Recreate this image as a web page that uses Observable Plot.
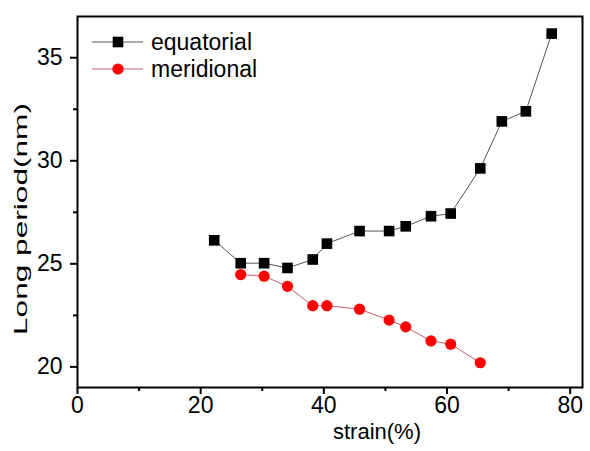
<!DOCTYPE html>
<html>
<head>
<meta charset="utf-8">
<script src="https://cdn.jsdelivr.net/npm/d3@7"></script>
<script src="https://cdn.jsdelivr.net/npm/@observablehq/plot@0.6"></script>
<style>
  html, body { margin: 0; padding: 0; background: #fff; }
  svg { font-family: "Liberation Sans", Arial, sans-serif; }
</style>
</head>
<body>
<div id="chart"></div>
<script>
// ---- data ----
const equatorialStrain = [22.2, 26.5, 30.3, 34.1, 38.2, 40.5, 45.8, 50.6, 53.3, 57.4, 60.6, 65.4, 68.9, 72.8, 77.0];
const equatorialPeriod = [26.14, 25.03, 25.03, 24.80, 25.21, 25.98, 26.59, 26.59, 26.82, 27.31, 27.44, 29.63, 31.91, 32.40, 36.17];
const meridionalStrain = [26.5, 30.3, 34.1, 38.2, 40.5, 45.8, 50.6, 53.3, 57.4, 60.6, 65.4];
const meridionalPeriod = [24.48, 24.40, 23.91, 22.97, 22.97, 22.80, 22.27, 21.94, 21.26, 21.10, 20.20];
const seriesNames = ["equatorial", "meridional"];
const xMajorTicks = [0, 20, 40, 60, 80];
const xMinorTicks = [10, 30, 50, 70];
const yMajorTicks = [20, 25, 30, 35];
const yMinorTicks = [22.5, 27.5, 32.5];
const xLabel = "strain(%)";
const yLabel = "Long period(nm)";

const eq = equatorialStrain.map((s, i) => ({strain: s, period: equatorialPeriod[i]}));
const me = meridionalStrain.map((s, i) => ({strain: s, period: meridionalPeriod[i]}));

const lineColors = ["#555555", "#c85a6a"];
const fillColors = ["#000000", "#ff0000"];

const tickFont = 23;

const plot = Plot.plot({
  width: 590,
  height: 451,
  marginLeft: 77,
  marginRight: 8,
  marginTop: 16,
  marginBottom: 64,
  style: {fontSize: tickFont + "px", fontFamily: "Liberation Sans, Arial, sans-serif", color: "#000", background: "#fff"},
  x: {domain: [0, 82]},
  y: {domain: [19, 37]},
  marks: [
    // tick marks
    Plot.axisX({ticks: xMajorTicks, tickSize: 7, text: null, label: null, strokeWidth: 2}),
    Plot.axisX({ticks: xMinorTicks, tickSize: 4, text: null, label: null, strokeWidth: 2}),
    Plot.axisY({ticks: yMajorTicks, tickSize: 7, text: null, label: null, strokeWidth: 2}),
    Plot.axisY({ticks: yMinorTicks, tickSize: 4, text: null, label: null, strokeWidth: 2}),
    // tick labels
    Plot.text(xMajorTicks, {x: d => d, text: d => String(d), frameAnchor: "bottom", dy: 25, fontSize: tickFont, fill: "#000"}),
    Plot.text(yMajorTicks, {y: d => d, text: d => String(d), frameAnchor: "left", dx: -15, textAnchor: "end", fontSize: tickFont, fill: "#000"}),
    Plot.frame({stroke: "#000", strokeWidth: 2}),
    Plot.text([xLabel], {frameAnchor: "bottom", dy: 51, dx: 47, fontSize: 22, fill: "#000"}),
    Plot.text([yLabel], {frameAnchor: "left", dx: -57, dy: 133, rotate: -90, textAnchor: "start", fontSize: 19, fill: "#000"}),
    Plot.line(eq, {x: "strain", y: "period", stroke: lineColors[0], strokeWidth: 1}),
    Plot.line(me, {x: "strain", y: "period", stroke: lineColors[1], strokeWidth: 1}),
    Plot.dot(eq, {x: "strain", y: "period", symbol: "square", r: 6, fill: fillColors[0], stroke: "none"}),
    Plot.dot(me, {x: "strain", y: "period", symbol: "circle", r: 5.6, fill: fillColors[1], stroke: "none"})
  ]
});

const svg = d3.select(plot);

// stretch the y-axis title along its length, as in the reference
svg.selectAll("text").filter(function() { return this.textContent === yLabel; })
  .attr("text-anchor", "start")
  .attr("textLength", 232)
  .attr("lengthAdjust", "spacingAndGlyphs");

// legend (drawn in svg coordinates inside the frame)
const leg = svg.append("g").attr("font-size", 23).attr("text-anchor", "start")
  .attr("font-family", "Liberation Sans, Arial, sans-serif");
seriesNames.forEach((name, i) => {
  const y = 42 + i * 27;
  leg.append("line").attr("x1", 92).attr("x2", 143).attr("y1", y).attr("y2", y)
     .attr("stroke", lineColors[i]).attr("stroke-width", 1);
  if (i === 0) {
    leg.append("rect").attr("x", 118 - 5.3).attr("y", y - 5.3).attr("width", 10.6).attr("height", 10.6).attr("fill", fillColors[i]);
  } else {
    leg.append("circle").attr("cx", 118).attr("cy", y).attr("r", 5.6).attr("fill", fillColors[i]);
  }
  leg.append("text").attr("x", 151).attr("y", y).attr("dy", "0.36em").attr("fill", "#000").text(name);
});

document.getElementById("chart").appendChild(plot);
</script>
</body>
</html>
